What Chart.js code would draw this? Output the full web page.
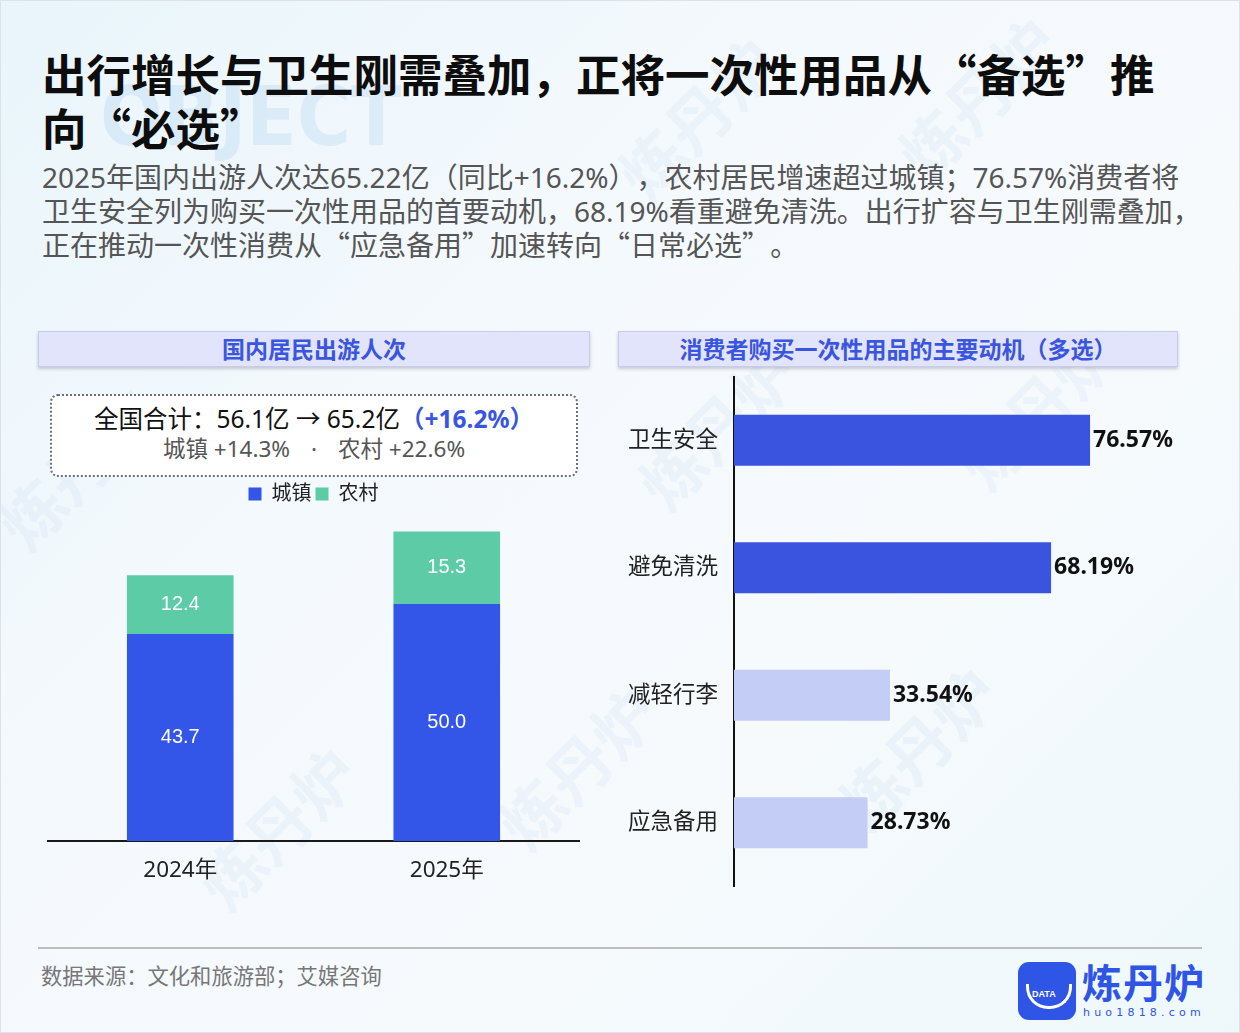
<!DOCTYPE html>
<html lang="zh-CN">
<head>
<meta charset="utf-8">
<script src="https://cdn.jsdelivr.net/npm/chart.js@4.4.1/dist/chart.umd.min.js"></script>
<style>
  html, body { margin: 0; padding: 0; }
  body { width: 1240px; height: 1033px; position: relative; overflow: hidden;
    font-family: "Noto Sans", "Noto Sans CJK SC", sans-serif; text-spacing-trim: space-all;
    background: linear-gradient(135deg, #E9F5FB 0%, #F4F9FD 35%, #F6FAFD 65%, #EEF8FB 100%); }
  .q { font-family: "Noto Sans CJK SC", sans-serif; }
  .frame { position: absolute; left: 0; top: 0; width: 1238px; height: 1031px; border: 1px solid #DCE2E8; pointer-events: none; }
  .wm { position: absolute; color: rgba(120, 160, 210, 0.07); font-weight: 700; font-size: 64px; transform: rotate(-45deg); white-space: nowrap; font-family: "Noto Sans CJK SC", sans-serif; }
  .ghost { position: absolute; left: 100px; top: 76px; font-family: "DejaVu Sans Condensed", "DejaVu Sans", sans-serif; font-size: 82px; line-height: 82px; font-weight: 700; color: rgba(140, 190, 235, 0.2); }
  .title { position: absolute; left: 42px; top: 46px; font-family: "Noto Sans CJK SC", sans-serif; font-size: 44.5px; line-height: 54px; font-weight: 700; color: #0D0D0D; white-space: nowrap; }
  .sub { position: absolute; left: 42px; top: 161px; font-size: 28px; line-height: 33.5px; color: #555; white-space: nowrap; }
  .hdr { position: absolute; top: 331px; height: 36px; line-height: 35px; background: #E1E4FA; border: 1px solid #C8CCEB;
    box-shadow: 0 2px 3px rgba(60, 60, 90, 0.25); text-align: center; font-size: 23px; font-weight: 700; color: #3A55E0; box-sizing: border-box; white-space: nowrap; }
  .sumbox { position: absolute; left: 50px; top: 394px; width: 528px; height: 83px; box-sizing: border-box; background: #fff;
    border: 2px dotted #6B7080; border-radius: 8px; text-align: center; white-space: nowrap; }
  .l1 { position: absolute; left: 0; right: 0; top: 8px; font-size: 24.5px; line-height: 30px; color: #111; }
  .l1 b { color: #3A55E0; font-weight: 700; }
  .l2 { position: absolute; left: 0; right: 0; top: 39px; font-size: 22.5px; line-height: 28px; color: #555; }
  .l2 .dot { margin: 0 21px; }
  .foot { position: absolute; left: 38px; top: 947px; width: 1164px; height: 0; border-top: 2px solid #BDBDBD; }
  .src { position: absolute; left: 41px; top: 962px; font-size: 21.3px; line-height: 28px; color: #777; white-space: nowrap; }
  .logo { position: absolute; left: 1018px; top: 962px; width: 58px; height: 58px; border-radius: 11px; background: #2F55E6; }
  .logo span { position: absolute; left: 14px; top: 27px; font-family: "Liberation Sans", sans-serif; font-size: 9px; font-weight: 700; color: #fff; }
  .logo i { position: absolute; left: 8px; top: 22px; width: 40px; height: 22px; border: 3px solid #fff; border-top: none; border-radius: 0 0 22px 22px; }
  .brand { position: absolute; left: 1082px; top: 958px; font-family: "Noto Sans CJK SC", sans-serif; font-size: 40px; line-height: 46px; font-weight: 700; color: #2F55E6; letter-spacing: 1px; }
  .url { position: absolute; left: 1083px; top: 1006px; font-family: "DejaVu Sans", sans-serif; font-size: 11px; line-height: 14px; color: #2F55E6; letter-spacing: 4.2px; }
  canvas { position: absolute; }
</style>
</head>
<body>
<div class="ghost">OBJECT</div>
<div class="wm" style="left:600px;top:70px;">炼丹炉</div>
<div class="wm" style="left:880px;top:50px;">炼丹炉</div>
<div class="wm" style="left:-20px;top:420px;">炼丹炉</div>
<div class="wm" style="left:180px;top:780px;">炼丹炉</div>
<div class="wm" style="left:480px;top:720px;">炼丹炉</div>
<div class="wm" style="left:820px;top:700px;">炼丹炉</div>
<div class="wm" style="left:620px;top:380px;">炼丹炉</div>
<div class="wm" style="left:940px;top:360px;">炼丹炉</div>

<div class="title">出行增长与卫生刚需叠加，正将一次性用品从“备选”推<br>向“必选”</div>
<div class="sub">2025年国内出游人次达65.22亿（同比+16.2%），农村居民增速超过城镇；76.57%消费者将<br>卫生安全列为购买一次性用品的首要动机，68.19%看重避免清洗。出行扩容与卫生刚需叠加，<br>正在推动一次性消费从<span class="q">“</span>应急备用<span class="q">”</span>加速转向<span class="q">“</span>日常必选<span class="q">”</span>。</div>

<div class="hdr" style="left:38px;width:552px;">国内居民出游人次</div>
<div class="hdr" style="left:618px;width:560px;">消费者购买一次性用品的主要动机（多选）</div>

<div class="sumbox">
  <div class="l1">全国合计：56.1亿 → 65.2亿<b>（+16.2%）</b></div>
  <div class="l2">城镇 +14.3%<span class="dot">·</span>农村 +22.6%</div>
</div>

<canvas id="c1" width="533" height="420" style="left:47px;top:480px;width:533px;height:420px;"></canvas>
<canvas id="c2" width="580" height="569" style="left:620px;top:347px;width:580px;height:569px;"></canvas>

<div class="foot"></div>
<div class="src">数据来源：文化和旅游部；艾媒咨询</div>
<div class="logo"><i></i><span>DATA</span></div>
<div class="brand">炼丹炉</div>
<div class="url">huo1818.com</div>
<div class="frame"></div>

<script>
// ---- data ----
const years = ['2024年', '2025年'];
const urbanTrips = [43.7, 50.0];
const ruralTrips = [12.4, 15.3];
const seriesNames = ['城镇', '农村'];

const motives = ['卫生安全', '避免清洗', '减轻行李', '应急备用'];
const motiveShares = [76.57, 68.19, 33.54, 28.73];

// ---- styles ----
const BLUE = '#3355E8';
const GREEN = '#5DCBA5';
const DARK = '#3A54E0';
const LIGHT = '#C4CDF5';
const FONT = '"Noto Sans", "Noto Sans CJK SC", sans-serif';

const insideLabels = {
  id: 'insideLabels',
  afterDatasetsDraw(chart) {
    const ctx = chart.ctx;
    ctx.save();
    ctx.fillStyle = '#fff';
    ctx.font = '20px "Liberation Sans", Arial, sans-serif';
    ctx.textAlign = 'center';
    ctx.textBaseline = 'middle';
    chart.data.datasets.forEach((ds, di) => {
      chart.getDatasetMeta(di).data.forEach((bar, i) => {
        const v = ds.data[i];
        ctx.fillText(v.toFixed(1), bar.x, (bar.y + bar.base) / 2);
      });
    });
    ctx.restore();
  }
};

new Chart(document.getElementById('c1'), {
  type: 'bar',
  data: {
    labels: years,
    datasets: [
      { label: seriesNames[0], data: urbanTrips, backgroundColor: BLUE },
      { label: seriesNames[1], data: ruralTrips, backgroundColor: GREEN }
    ]
  },
  options: {
    responsive: false,
    animation: false,
    events: [],
    categoryPercentage: 0.5,
    barPercentage: 0.8,
    layout: { padding: 0 },
    plugins: {
      legend: {
        display: true,
        position: 'top',
        labels: { font: { family: FONT, size: 20 }, color: '#222', boxWidth: 13, boxHeight: 13, padding: 4 }
      },
      tooltip: { enabled: false }
    },
    scales: {
      x: {
        stacked: true,
        grid: { display: false, drawTicks: false },
        border: { display: true, color: '#1A1A1A', width: 2 },
        ticks: { font: { family: FONT, size: 22.5 }, color: '#222', padding: 16 }
      },
      y: {
        stacked: true, display: false, min: 0, max: 69
      }
    }
  },
  plugins: [insideLabels]
});

const endLabels = {
  id: 'endLabels',
  afterDatasetsDraw(chart) {
    const ctx = chart.ctx;
    ctx.save();
    ctx.fillStyle = '#111';
    ctx.font = 'bold 23px ' + FONT;
    ctx.textAlign = 'left';
    ctx.textBaseline = 'middle';
    const ds = chart.data.datasets[0];
    chart.getDatasetMeta(0).data.forEach((bar, i) => {
      ctx.fillText(ds.data[i].toFixed(2) + '%', bar.x + 3, bar.y);
    });
    ctx.restore();
  }
};

new Chart(document.getElementById('c2'), {
  type: 'bar',
  data: {
    labels: motives,
    datasets: [{
      label: '占比',
      data: motiveShares,
      backgroundColor: [DARK, DARK, LIGHT, LIGHT]
    }]
  },
  options: {
    indexAxis: 'y',
    responsive: false,
    animation: false,
    events: [],
    categoryPercentage: 0.5,
    barPercentage: 0.8,
    layout: { padding: { top: 0, bottom: 0, left: 0, right: 1 } },
    plugins: { legend: { display: false }, tooltip: { enabled: false } },
    scales: {
      x: { display: false, min: 0, max: 100 },
      y: {
        grid: { display: false, drawTicks: false },
        border: { display: true, color: '#111', width: 2 },
        ticks: { font: { family: FONT, size: 22.5 }, color: '#222', padding: 16 },
        afterFit(scale) { scale.width = 114; }
      }
    }
  },
  plugins: [endLabels]
});
</script>
</body>
</html>
